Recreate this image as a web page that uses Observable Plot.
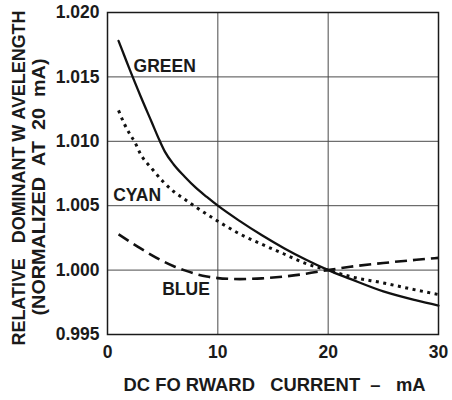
<!DOCTYPE html>
<html>
<head>
<meta charset="utf-8">
<script src="https://cdn.jsdelivr.net/npm/d3@7"></script>
<script src="https://cdn.jsdelivr.net/npm/@observablehq/plot@0.6"></script>
<style>
  html, body { margin: 0; padding: 0; background: #fff; }
</style>
</head>
<body>
<div id="chart"></div>
<script>
// Green curve
const greenCurrent = [1, 1.5, 2, 3, 4, 4.7, 5.2, 6, 7, 8, 9, 10, 12, 14, 16, 18, 20, 22, 25, 28, 30];
const greenValue   = [1.0178, 1.0167, 1.0156, 1.0135, 1.0115, 1.0101, 1.0092, 1.0082, 1.00725, 1.0064, 1.00568, 1.0050, 1.0038, 1.0027, 1.0017, 1.0008, 1.0000, 0.99932, 0.99835, 0.99765, 0.99725];
// Cyan curve
const cyanCurrent = [1, 1.5, 2, 2.5, 3, 4, 5, 6, 7, 8, 10, 12, 14, 16, 18, 20, 22, 25, 28, 30];
const cyanValue   = [1.0124, 1.0114, 1.0106, 1.0099, 1.0090, 1.0079, 1.0069, 1.0061, 1.0055, 1.0049, 1.0038, 1.0028, 1.0020, 1.00125, 1.0005, 1.0000, 0.9995, 0.9990, 0.99845, 0.9981];
// Blue curve
const blueCurrent = [1, 2, 3, 4, 5, 6, 7, 8, 9, 10, 11, 12, 13, 14, 16, 18, 20, 22, 25, 28, 30];
const blueValue   = [1.00278, 1.00222, 1.00168, 1.00117, 1.00070, 1.00030, 0.99998, 0.99970, 0.99950, 0.99938, 0.99932, 0.99930, 0.99932, 0.99936, 0.99950, 0.99972, 1.0000, 1.00026, 1.00055, 1.0008, 1.00095];

// Curve labels
const labelNames = ["GREEN", "CYAN", "BLUE"];
const labelX = [2.36, 0.51, 4.96];
const labelY = [1.0158, 1.0058, 0.99847];

// Ticks
const xTicks = [0, 10, 20, 30];
const yTicks = [0.995, 1.000, 1.005, 1.010, 1.015, 1.020];

const xTitle = "DC\u00A0FO\u00A0RWARD\u00A0\u00A0\u00A0CURRENT\u00A0\u00A0\u2013\u00A0\u00A0\u00A0mA";
const yTitle1 = "RELATIVE\u00A0\u00A0\u00A0DOMINANT\u00A0W\u00A0AVELENGTH";
const yTitle2 = "(NORMALIZED\u00A0\u00A0AT\u00A0\u00A020\u00A0\u00A0mA)";

const toRows = (xs, ys) => xs.map((x, i) => ({x, y: ys[i]}));
const green = toRows(greenCurrent, greenValue);
const cyan = toRows(cyanCurrent, cyanValue);
const blue = toRows(blueCurrent, blueValue);
const labels = labelNames.map((name, i) => ({name, x: labelX[i], y: labelY[i]}));

const ink = "#1a1a1a";
const fs = 17.5;

const chart = Plot.plot({
  width: 452,
  height: 400,
  marginLeft: 107,
  marginRight: 14,
  marginTop: 12,
  marginBottom: 66,
  style: {fontFamily: "'Liberation Sans', Arial, sans-serif", fontWeight: "bold", fontSize: fs + "px", color: ink, background: "#fff"},
  x: {domain: [0, 30]},
  y: {domain: [0.995, 1.020]},
  marks: [
    Plot.gridX(xTicks, {stroke: "#4a4a4a", strokeOpacity: 1, strokeWidth: 1}),
    Plot.gridY(yTicks, {stroke: "#4a4a4a", strokeOpacity: 1, strokeWidth: 1}),
    Plot.axisX(xTicks, {tickSize: 0, tickPadding: 11, fontSize: fs, fontWeight: "bold", fill: ink, label: null, tickFormat: d3.format("d")}),
    Plot.axisY(yTicks, {tickSize: 0, tickPadding: 8, fontSize: fs, fontWeight: "bold", fill: ink, label: null, tickFormat: d3.format(".3f")}),
    Plot.line(green, {x: "x", y: "y", curve: "monotone-x", stroke: "#111", strokeWidth: 2.3}),
    Plot.line(cyan, {x: "x", y: "y", curve: "monotone-x", stroke: "#111", strokeWidth: 3, strokeDasharray: "3,4.5", strokeLinecap: "butt"}),
    Plot.line(blue, {x: "x", y: "y", curve: "monotone-x", stroke: "#111", strokeWidth: 2.6, strokeDasharray: "12,6", strokeLinecap: "butt"}),
    Plot.text(labels, {x: "x", y: "y", text: "name", textAnchor: "start", lineAnchor: "middle", fontSize: fs, fontWeight: "bold", fill: ink}),
    Plot.text([xTitle], {text: d => d, frameAnchor: "bottom", dx: 1.5, dy: 51, lineAnchor: "middle", textAnchor: "middle", fontSize: fs, fontWeight: "bold", fill: ink}),
    Plot.text([yTitle1], {text: d => d, frameAnchor: "left", rotate: -90, dx: -88.5, dy: 4.5, lineAnchor: "middle", textAnchor: "middle", fontSize: fs, fontWeight: "bold", fill: ink}),
    Plot.text([yTitle2], {text: d => d, frameAnchor: "left", rotate: -90, dx: -68, dy: 13.5, lineAnchor: "middle", textAnchor: "middle", fontSize: fs, fontWeight: "bold", fill: ink}),
    Plot.frame({stroke: "#1a1a1a", strokeWidth: 1.5})
  ]
});

// fit the long axis titles to the reference lengths
chart.querySelectorAll("text").forEach(t => {
  const s = t.textContent;
  let len = null;
  if (s === xTitle) len = 302;
  else if (s === yTitle1) len = 335;
  else if (s === yTitle2) len = 257;
  if (len) {
    t.setAttribute("textLength", len);
    t.setAttribute("lengthAdjust", "spacingAndGlyphs");
  }
});

document.getElementById("chart").appendChild(chart);
</script>
</body>
</html>
